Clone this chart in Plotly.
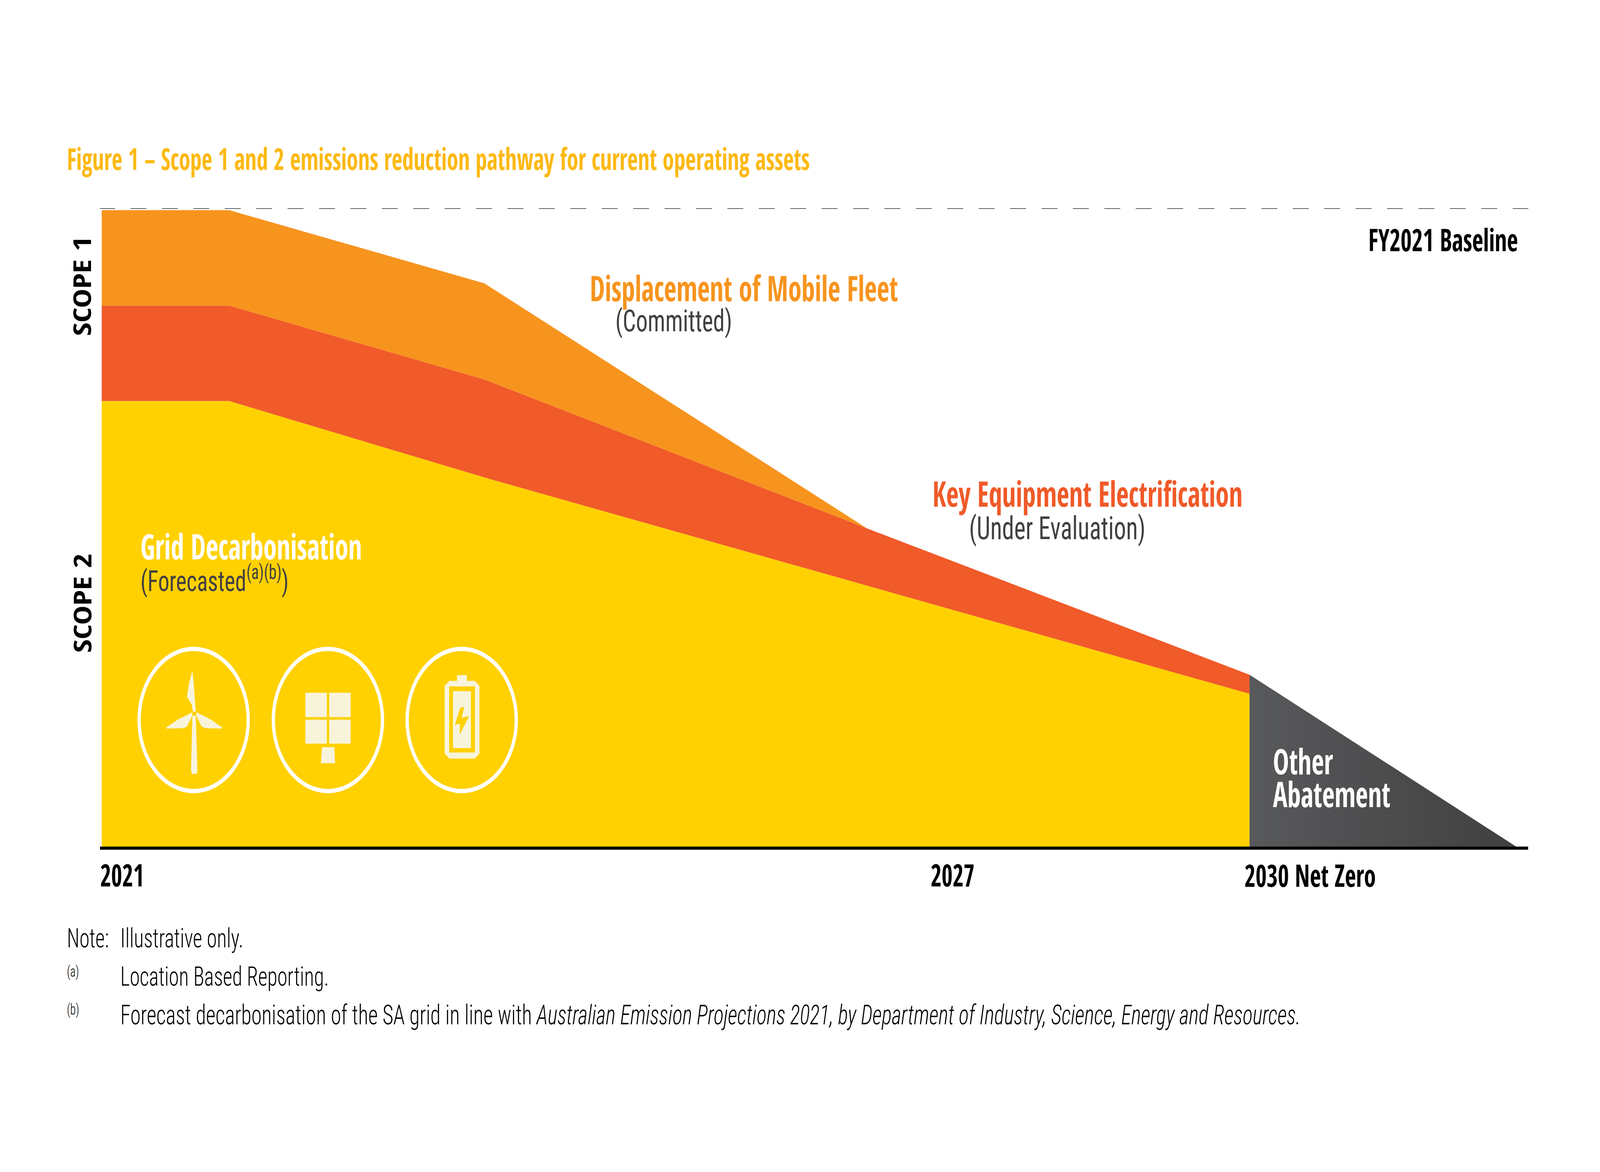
import plotly.graph_objects as go

W, H = 5333, 3000
# ---------- data (illustrative % of FY2021 baseline) ----------
years_main = [2021, 2022, 2024, 2027, 2030]
grid_top = [70, 70, 58, 41, 24]
equipment_top = [85, 85, 73.4, 50, 27]
fleet_top = [100, 100, 88.5, 50, 27]
years_other = [2030, 2032.09]
other_top = [27, 0]
baseline_x = [2020.98, 2032.19]
baseline_y = [100.3, 100.3]

YELLOW, RED, ORANGE = "#FFD100", "#F15A29", "#F7941E"
TITLE = "#FDB913"
DARK = "#414042"
CREAM = "#F8F4DC"
BOLD = "'Open Sans Condensed', 'Roboto Condensed', 'Open Sans', sans-serif"
REG = "'Roboto Condensed', 'Open Sans Condensed', 'Open Sans', sans-serif"

L, R, T, B = 333, 5094, 533, 2167


def px(x):
    return x / W


def py(y):
    return 1 - y / H


fig = go.Figure()
common = dict(mode="lines", line=dict(width=0), hoverinfo="skip", showlegend=False)
fig.add_trace(go.Scatter(x=years_main, y=grid_top, fill="tozeroy", fillcolor=YELLOW, **common))
fig.add_trace(go.Scatter(x=years_main, y=equipment_top, fill="tonexty", fillcolor=RED, **common))
fig.add_trace(go.Scatter(x=years_main, y=fleet_top, fill="tonexty", fillcolor=ORANGE, **common))
fig.add_trace(go.Scatter(x=years_other, y=other_top, fill="tozeroy",
                         fillgradient=dict(type="horizontal",
                                           colorscale=[[0, "#58595B"], [1, "#404041"]]),
                         **common))
fig.add_trace(go.Scatter(x=baseline_x, y=baseline_y, mode="lines", hoverinfo="skip", showlegend=False,
                         cliponaxis=False,
                         line=dict(color="#2B2B2B", width=3, dash="53px,51.7px")))


def text(s, x, y, size, color, bold=False, anchor="left", angle=0, weight=None):
    font = dict(family=BOLD if bold else REG, size=size, color=color)
    if weight:
        font["weight"] = weight
    fig.add_annotation(text=f"<b>{s}</b>" if bold else s, x=px(x), y=py(y), xref="paper", yref="paper",
                       xanchor=anchor, yanchor="middle", showarrow=False, textangle=angle,
                       align="left", borderpad=0, font=font)


text("Figure 1 – Scope 1 and 2 emissions reduction pathway for current operating assets", 222, 405, 76.6, TITLE, True)
text("SCOPE 1", 272, 733, 83, "#000000", True, "center", -90)
text("SCOPE 2", 272, 1544, 83, "#000000", True, "center", -90)
text("FY2021 Baseline", 5061, 612, 80, "#000000", True, "right")
text("Displacement of Mobile Fleet", 1965, 736, 90, ORANGE, True)
text("(Committed)", 2050, 821, 78, DARK)
text("Key Equipment Electrification", 3107, 1262, 90, RED, True)
text("(Under Evaluation)", 3229, 1352, 81, DARK)
text("Grid Decarbonisation", 467, 1397, 90, "#FFFFFF", True)
text("(Forecasted<sup>(a)(b)</sup>)", 467, 1482, 75, DARK)
text("Other", 4242, 1947, 90, "#FFFFFF", True)
text("Abatement", 4242, 2031, 90, "#FFFFFF", True)
text("2021", 333, 2238, 79, "#000000", True)
text("2027", 3101, 2238, 79, "#000000", True)
text("2030 Net Zero", 4147, 2238, 80, "#000000", True)
text("Note:", 222, 2402, 68, "#000000", weight=300)
text("Illustrative only.", 400, 2402, 68, "#000000", weight=300)
text("(a)", 222, 2487, 38, "#000000", weight=300)
text("Location Based Reporting.", 400, 2500, 68, "#000000", weight=300)
text("(b)", 222, 2584, 38, "#000000", weight=300)
text("Forecast decarbonisation of the SA grid in line with <i>Australian Emission Projections 2021, by Department of Industry, Science, Energy and Resources.</i>",
     400, 2598, 69.7, "#000000", weight=300)


# ---------- icons, drawn in page pixels ----------
def zx(v):
    return px(400 + v / 1.12)


def zy(v):
    return py(1360 + v / 1.96)


def poly(points, color=CREAM):
    d = "M " + " L ".join(f"{zx(a):.5f},{zy(b):.5f}" for a, b in points) + " Z"
    fig.add_shape(type="path", path=d, xref="paper", yref="paper", fillcolor=color, line=dict(width=0), layer="above")


def rect(x0, y0, x1, y1, color=CREAM):
    poly([(x0, y0), (x1, y0), (x1, y1), (x0, y1)], color)


for cx in (645.5, 1093, 1539):
    r = 182
    fig.add_shape(type="circle", xref="paper", yref="paper", x0=px(cx - r), x1=px(cx + r),
                  y0=py(1843 + r), y1=py(1843 - r), line=dict(color="#FFFFFF", width=11), layer="above")

poly([(270, 925), (265, 1205), (270, 1217), (285, 1217), (289, 1205), (283, 925)])
poly([(270, 700), (275, 760), (283, 905), (272, 905), (268, 870), (250, 830), (258, 760)])
poly([(270, 908), (270, 925), (250, 980), (235, 988), (175, 990), (172, 985), (215, 945)])
poly([(285, 908), (340, 945), (382, 985), (380, 990), (320, 988), (305, 980), (285, 925)])

rect(692, 810, 772, 932)
rect(781, 810, 861, 932)
rect(692, 945, 772, 1065)
rect(781, 945, 861, 1065)
poly([(754, 1083), (800, 1083), (803, 1164), (750, 1164)])

rect(1258, 722, 1295, 755)
poly([(1230, 750), (1324, 750), (1342, 775), (1342, 1115), (1324, 1140), (1230, 1140), (1212, 1115), (1212, 775)])
rect(1229, 778, 1325, 1110, YELLOW)
rect(1243, 802, 1310, 1088)
poly([(1270, 885), (1285, 882), (1275, 935), (1303, 927), (1268, 1020), (1269, 965), (1250, 970)], YELLOW)

fig.update_layout(
    width=W, height=H, autosize=False,
    paper_bgcolor="#FFFFFF", plot_bgcolor="rgba(0,0,0,0)",
    margin=dict(l=0, r=0, t=0, b=0),
    font=dict(family=REG),
    showlegend=False,
    xaxis=dict(domain=[px(L), px(R)], range=[2021 + (L - 339) / 425.1, 2021 + (R - 339) / 425.1],
               showgrid=False, zeroline=False, showticklabels=False, ticks="",
               showline=True, linecolor="#000000", linewidth=8),
    yaxis=dict(domain=[py(B), py(T)], range=[0, 100.3], showgrid=False, zeroline=False,
               showticklabels=False, ticks="", showline=False),
)
# The browser window can come out narrower than the figure; fit the figure to whatever window it gets.
fit = """
document.documentElement.style.overflow='hidden';
document.body.style.margin='0';
var gd=document.getElementById('{plot_id}');
gd.style.transformOrigin='0 0';
gd.style.transform='scale('+(innerWidth/%d)+','+(innerHeight/%d)+')';
""" % (W, H)
fig.write_html("out.html", post_script=fit, config={"displayModeBar": False})
